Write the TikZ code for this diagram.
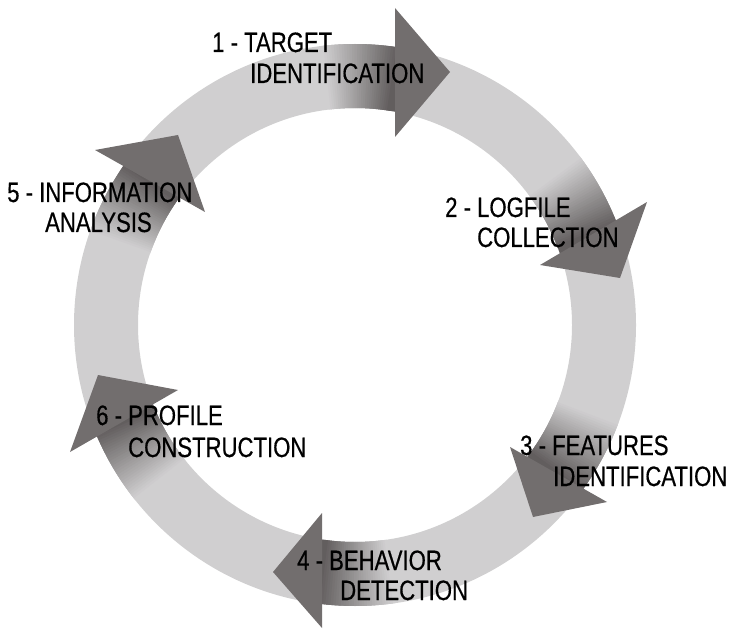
\documentclass[tikz,border=0pt]{standalone}
\usepackage{fontspec}
\newfontfamily\lblfont{Liberation Sans}[FakeStretch=0.79,FakeBold=0.5]
\definecolor{ringc}{RGB}{208,207,208}
\definecolor{headc}{RGB}{114,110,110}
\definecolor{deepc}{RGB}{98,94,94}
\tikzset{
  lbl/.style={anchor=base west, inner sep=0pt, font=\lblfont\fontsize{28}{32}\selectfont, text=black},
  ringfill/.style={fill=ringc, even odd rule},
  headfill/.style={fill=headc}
}
\begin{document}
\begin{tikzpicture}[x=1pt,y=1pt]
\useasboundingbox (0,0) rectangle (730,630);
\coordinate (c) at (355,305);
% ring
\path[ringfill] (c) circle[radius=281] (c) circle[radius=217];
% gradient shafts before each head
\foreach \m in {81.0,21.0,-36.3,-97.7,144.9,202.6}{
  \foreach \k in {0,...,29}{
    \pgfmathsetmacro\aa{\m+16-\k*16/30}
    \pgfmathsetmacro\bb{\aa-16/30-0.5}
    \pgfmathtruncatemacro\pc{100*\k/29}
    \fill[deepc!\pc!ringc, shift={(c)}] (\aa:281) arc[start angle=\aa, end angle=\bb, radius=281]
      -- (\bb:217) arc[start angle=\bb, end angle=\aa, radius=217] -- cycle;
  }
  \pgfmathsetmacro\cc{\m-4}
  \fill[deepc, shift={(c)}] (\m:281) arc[start angle=\m, end angle=\cc, radius=281]
      -- (\cc:217) arc[start angle=\cc, end angle=\m, radius=217] -- cycle;
}
% arrow heads
\coordinate (h1a) at (395,622); \coordinate (h1b) at (395,493); \coordinate (h1t) at (450,558);
\coordinate (h2a) at (647,428); \coordinate (h2b) at (540,365); \coordinate (h2t) at (620,352);
\coordinate (h3a) at (510,183); \coordinate (h3b) at (607,128); \coordinate (h3t) at (533,113);
\coordinate (h4a) at (322,117); \coordinate (h4b) at (322,2);   \coordinate (h4t) at (273,58);
\coordinate (h5a) at (95,480);  \coordinate (h5b) at (205,418); \coordinate (h5t) at (178,495);
\coordinate (h6a) at (178,240); \coordinate (h6b) at (70,178);  \coordinate (h6t) at (98,255);
\foreach \i in {1,...,6}{
  \path[headfill] (h\i a) -- (h\i t) -- (h\i b) -- cycle;
}
% labels
\node[lbl] (t1a) at (212,578) {1 - TARGET};
\node[lbl] (t1b) at (250,547) {IDENTIFICATION};
\node[lbl] (t2a) at (445,413) {2 - LOGFILE};
\node[lbl] (t2b) at (477,383) {COLLECTION};
\node[lbl] (t3a) at (520,175) {3 - FEATURES};
\node[lbl] (t3b) at (553,144) {IDENTIFICATION};
\node[lbl] (t4a) at (297,60) {4 - BEHAVIOR};
\node[lbl] (t4b) at (340,30) {DETECTION};
\node[lbl] (t5a) at (7,428) {5 - INFORMATION};
\node[lbl] (t5b) at (45,398) {ANALYSIS};
\node[lbl] (t6a) at (96,205) {6 - PROFILE};
\node[lbl] (t6b) at (128,173) {CONSTRUCTION};
\end{tikzpicture}
\end{document}
